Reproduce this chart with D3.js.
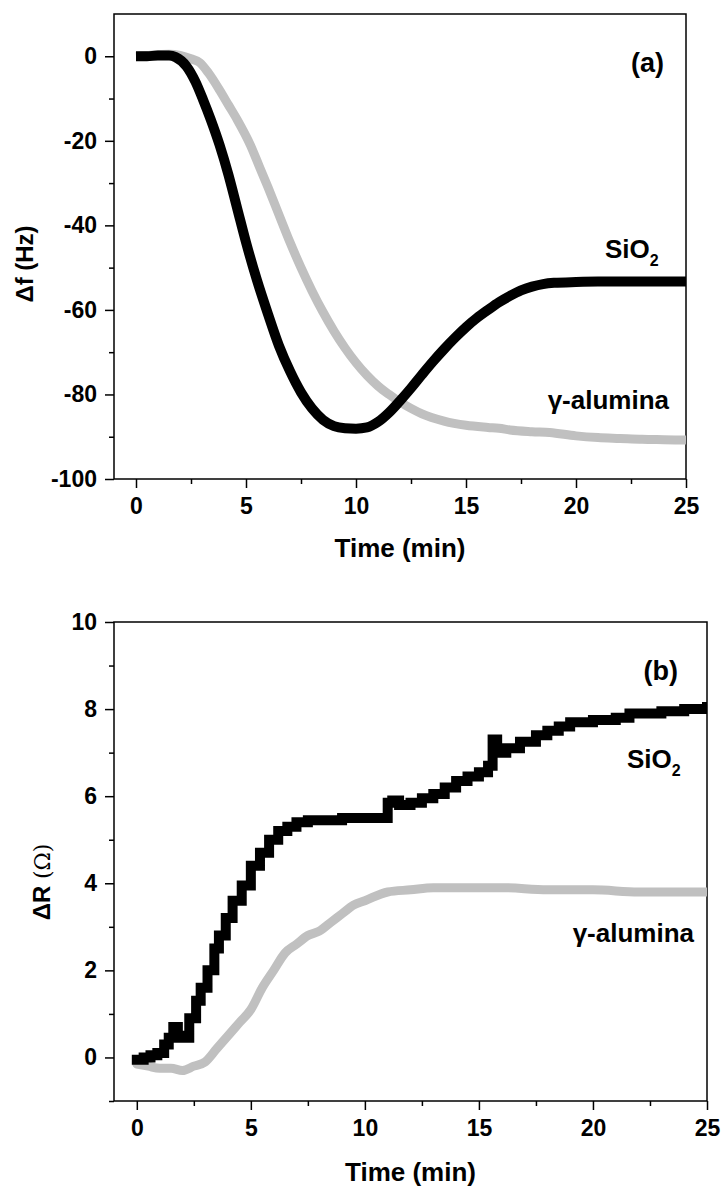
<!DOCTYPE html>
<html><head><meta charset="utf-8">
<script src="https://cdn.jsdelivr.net/npm/d3@7"></script>
<style>
body{margin:0;background:#fff;}
text{font-family:"Liberation Sans",Arial,sans-serif;font-weight:bold;fill:#000;}
</style></head>
<body>
<svg id="c" width="721" height="1186"></svg>
<script>
// ---------- data ----------
const xTicks = [0,5,10,15,20,25];
const yTicksA = [0,-20,-40,-60,-80,-100];
const yTicksB = [0,2,4,6,8,10];

// (a) frequency shift
const tA_SiO2 = [0,0.5,1,1.5,1.8,2.3,2.7,3.05,3.4,3.8,4.2,4.6,5,5.5,6,6.5,7,7.5,8,8.5,9,9.5,10,10.5,11,11.5,12,12.5,13,13.5,14,14.5,15,15.5,16,16.5,17,17.5,18,18.5,19,20,21,22,23,24,25];
const df_SiO2 = [0,0,0.2,0.2,-0.2,-2.4,-6,-10.3,-15,-21,-28,-36,-44,-53,-61,-68.5,-74.5,-79.5,-83.3,-86,-87.5,-88,-88.1,-87.8,-86.5,-84.3,-81.5,-78.5,-75.3,-72.2,-69.3,-66.6,-64.1,-61.9,-60,-58.2,-56.7,-55.4,-54.5,-53.9,-53.6,-53.4,-53.3,-53.3,-53.3,-53.3,-53.3];
const tA_Al = [0,0.5,1,1.5,2,2.5,2.9,3.3,3.8,4.2,4.6,5.2,5.6,6,6.5,7,7.5,8,8.5,9,9.5,10,10.5,11,11.5,12,12.5,13,14,15,16,16.5,17,18,18.8,20,21,22,23,24,25];
const df_Al = [0,0.2,0.4,0.5,0.2,-0.6,-1.5,-4,-8,-11.5,-15,-21,-26,-31,-37.5,-44,-50,-55.5,-60.5,-65,-69,-72.5,-75.5,-78,-80,-81.8,-83.3,-84.6,-86.3,-87.3,-87.8,-88,-88.4,-88.8,-89,-89.8,-90.2,-90.4,-90.6,-90.7,-90.8];

// (b) resistance shift
const tB_SiO2 = [0,0.3,0.6,0.9,1.2,1.4,1.6,1.8,2.0,2.3,2.6,2.8,3.1,3.4,3.6,3.9,4.2,4.6,5,5.4,5.8,6.2,6.6,7,7.5,8,9,10,10.8,11.0,11.2,11.5,12,12.5,13,13.5,14,14.5,15,15.4,15.6,15.8,16.2,16.8,17.5,18,18.5,19,20,21,21.6,22.5,23,24,25];
const dR_SiO2 = [-0.05,0,0.05,0.1,0.3,0.45,0.7,0.5,0.45,0.9,1.3,1.6,2.0,2.5,2.8,3.2,3.6,3.95,4.4,4.7,5.0,5.2,5.3,5.4,5.45,5.45,5.5,5.5,5.5,5.85,5.9,5.8,5.85,5.95,6.05,6.2,6.35,6.45,6.55,6.7,7.3,7.0,7.1,7.25,7.4,7.5,7.6,7.7,7.75,7.8,7.9,7.9,7.95,8.0,8.05];
const tB_Al = [0,0.5,1,1.5,2,2.5,3,3.5,4,4.5,5,5.5,6,6.5,7,7.5,8,8.5,9,9.5,10,11,12,13,14,15,16,18,20,22,25];
const dR_Al = [-0.15,-0.2,-0.25,-0.25,-0.3,-0.2,-0.1,0.2,0.5,0.8,1.1,1.6,2.0,2.4,2.6,2.8,2.9,3.1,3.3,3.5,3.6,3.8,3.85,3.9,3.9,3.9,3.9,3.85,3.85,3.8,3.8];

const svg = d3.select("#c");
const TICKFS = 23;

function panel(o){
  const x = d3.scaleLinear().domain([-1,25]).range([o.left,o.right]);
  const y = d3.scaleLinear().domain(o.ydom).range([o.bottom,o.top]);
  const g = svg.append("g");
  const xMinor = d3.range(0,25.01,2.5).filter(v=>xTicks.indexOf(v)<0);
  g.append("g").attr("transform",`translate(0,${o.bottom})`)
    .call(d3.axisBottom(x).tickValues(xMinor).tickSize(5).tickFormat(""))
    .call(s=>{s.select(".domain").remove();s.selectAll("line").attr("stroke-width",1.5);});
  g.append("g").attr("transform",`translate(${o.left},0)`)
    .call(d3.axisLeft(y).tickValues(o.yMinor).tickSize(5).tickFormat(""))
    .call(s=>{s.select(".domain").remove();s.selectAll("line").attr("stroke-width",1.5);});
  g.append("g").attr("transform",`translate(0,${o.bottom})`)
    .call(d3.axisBottom(x).tickValues(xTicks).tickSize(9).tickPadding(10).tickFormat(d3.format("d")))
    .call(s=>{s.select(".domain").remove();s.selectAll("line").attr("stroke-width",1.5);
      s.selectAll("text").attr("font-size",TICKFS).attr("font-family","Liberation Sans, Arial").attr("font-weight","bold").attr("fill","#000");});
  g.append("g").attr("transform",`translate(${o.left},0)`)
    .call(d3.axisLeft(y).tickValues(o.yTicks).tickSize(9).tickPadding(8).tickFormat(d=>d<0?"-"+Math.abs(d):d))
    .call(s=>{s.select(".domain").remove();s.selectAll("line").attr("stroke-width",1.5);
      s.selectAll("text").attr("font-size",TICKFS).attr("font-family","Liberation Sans, Arial").attr("font-weight","bold").attr("fill","#000");});
  g.append("rect").attr("x",o.left).attr("y",o.top).attr("width",o.right-o.left).attr("height",o.bottom-o.top)
    .attr("fill","none").attr("stroke","#000").attr("stroke-width",1.5);
  const cid = "clip"+o.id;
  svg.append("clipPath").attr("id",cid).append("rect")
    .attr("x",o.left).attr("y",o.top).attr("width",o.right-o.left).attr("height",o.bottom-o.top);
  const lg = g.append("g").attr("clip-path",`url(#${cid})`);
  o.series.forEach(s=>{
    const pts = s.t.map((t,i)=>[t,s.v[i]]);
    const line = d3.line().x(d=>x(d[0])).y(d=>y(d[1])).curve(s.curve);
    lg.append("path").attr("d",line(pts)).attr("fill","none").attr("stroke",s.color)
      .attr("stroke-width",s.w).attr("stroke-linejoin",s.join).attr("stroke-linecap",s.cap);
  });
  g.append("text").attr("x",(o.left+o.right)/2).attr("y",o.xtitleY).attr("text-anchor","middle")
    .attr("font-size",26).text("Time (min)");
  return {x,y,g};
}

// ---- panel (a)
panel({id:"a",left:114,right:686,top:14,bottom:479,ydom:[-100,10],
  yTicks:yTicksA, yMinor:[-10,-30,-50,-70,-90],xtitleY:557,
  series:[
    {t:tA_Al,v:df_Al,color:"#c0c0c0",w:9,curve:d3.curveMonotoneX,cap:"butt",join:"round"},
    {t:tA_SiO2,v:df_SiO2,color:"#000",w:10,curve:d3.curveMonotoneX,cap:"butt",join:"round"}
  ]});
svg.append("text").attr("transform","translate(33,264) rotate(-90)").attr("text-anchor","middle")
  .attr("font-size",24).text("Δf (Hz)");
svg.append("text").attr("x",664).attr("y",72).attr("text-anchor","end").attr("font-size",27).text("(a)");
const s1 = svg.append("text").attr("x",605).attr("y",258).attr("font-size",26);
s1.append("tspan").text("SiO");
s1.append("tspan").attr("font-size",16).attr("dy",8).text("2");
svg.append("text").attr("x",669).attr("y",409).attr("text-anchor","end").attr("font-size",26)
  .text("γ-alumina");

// ---- panel (b)
panel({id:"b",left:114,right:707,top:622,bottom:1101,ydom:[-1,10],
  yTicks:yTicksB, yMinor:[-1,1,3,5,7,9],xtitleY:1181,
  series:[
    {t:tB_Al,v:dR_Al,color:"#c0c0c0",w:9,curve:d3.curveMonotoneX,cap:"round",join:"round"},
    {t:tB_SiO2,v:dR_SiO2,color:"#000",w:10,curve:d3.curveStepAfter,cap:"square",join:"miter"}
  ]});
const yl = svg.append("text").attr("transform","translate(50,882) rotate(-90)").attr("text-anchor","middle")
  .attr("font-size",24);
yl.append("tspan").text("ΔR ");
yl.append("tspan").attr("font-weight","normal").attr("font-family","DejaVu Serif, serif").attr("font-size",22).text("(Ω)");
svg.append("text").attr("x",678).attr("y",680).attr("text-anchor","end").attr("font-size",27).text("(b)");
const s2 = svg.append("text").attr("x",627).attr("y",768).attr("font-size",26);
s2.append("tspan").text("SiO");
s2.append("tspan").attr("font-size",16).attr("dy",8).text("2");
svg.append("text").attr("x",694).attr("y",942).attr("text-anchor","end").attr("font-size",26)
  .text("γ-alumina");
</script>
</body></html>
